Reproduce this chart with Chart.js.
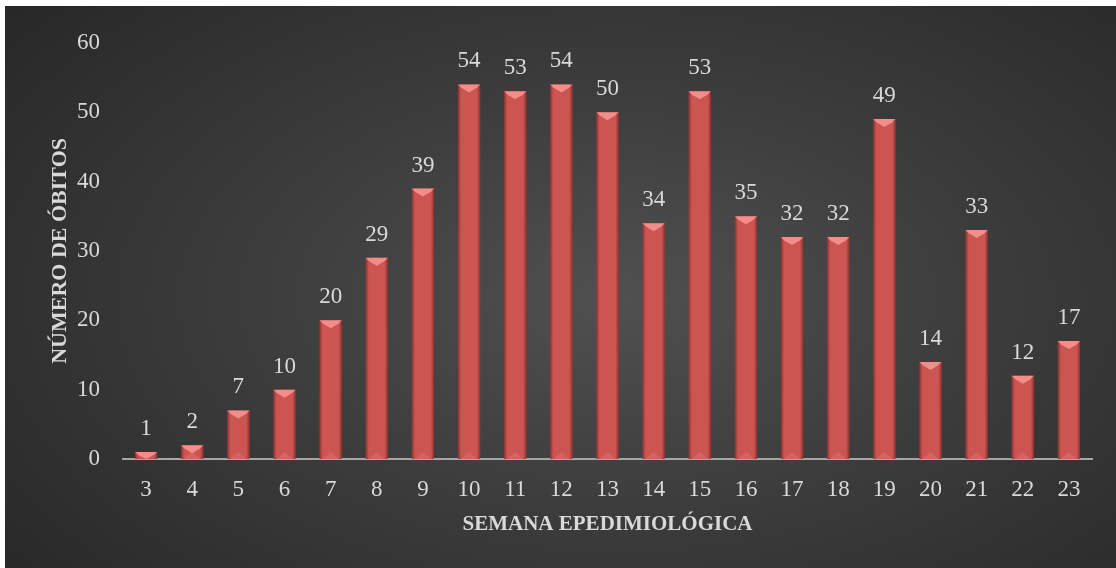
<!DOCTYPE html>
<html>
<head>
<meta charset="utf-8">
<script src="https://cdn.jsdelivr.net/npm/chart.js@4.4.0/dist/chart.umd.min.js"></script>
<style>
  html, body { margin: 0; padding: 0; background: #ffffff; }
  #wrap {
    position: absolute;
    left: 5px;
    top: 6px;
    width: 1111px;
    height: 562px;
    background: radial-gradient(ellipse 70% 80% at 55% 52%, #505050 0%, #3d3d3d 45%, #282828 100%);
  }
</style>
</head>
<body>
<div id="wrap"><canvas id="chart" width="1111" height="562"></canvas></div>
<script>
"use strict";

const semanas = ["3", "4", "5", "6", "7", "8", "9", "10", "11", "12", "13", "14", "15", "16", "17", "18", "19", "20", "21", "22", "23"];
const obitos = [1, 2, 7, 10, 20, 29, 39, 54, 53, 54, 50, 34, 53, 35, 32, 32, 49, 14, 33, 12, 17];
const yTicks = [0, 10, 20, 30, 40, 50, 60];

const textColor = "#d9d9d9";
const serif = "'Liberation Serif', 'DejaVu Serif', serif";

// rótulos de valor e efeito de chanfro sobre as barras
const barDecor = {
  id: "barDecor",
  afterDatasetsDraw(chart) {
    const ctx = chart.ctx;
    const meta = chart.getDatasetMeta(0);

    meta.data.forEach((bar, i) => {
      const { x, y, base, width } = bar.getProps(["x", "y", "base", "width"], true);
      const left = x - width / 2;
      const right = x + width / 2;
      const h = base - y;

      ctx.save();

      // laterais mais escuras
      const side = ctx.createLinearGradient(left, 0, right, 0);
      side.addColorStop(0, "rgba(80,15,15,0.5)");
      side.addColorStop(0.14, "rgba(80,15,15,0)");
      side.addColorStop(0.86, "rgba(80,15,15,0)");
      side.addColorStop(1, "rgba(80,15,15,0.5)");
      ctx.fillStyle = side;
      ctx.fillRect(left, y, width, h);

      // brilho triangular no topo
      const bevel = Math.min(8, h);
      ctx.beginPath();
      ctx.moveTo(left, y);
      ctx.lineTo(right, y);
      ctx.lineTo(right - 3, y + bevel * 0.4);
      ctx.lineTo(x, y + bevel);
      ctx.lineTo(left + 3, y + bevel * 0.4);
      ctx.closePath();
      ctx.fillStyle = "rgba(255,160,158,0.75)";
      ctx.fill();

      // brilho fraco na base
      if (h > 10) {
        ctx.beginPath();
        ctx.moveTo(left + 3, base);
        ctx.lineTo(x, base - 7);
        ctx.lineTo(right - 3, base);
        ctx.closePath();
        ctx.fillStyle = "rgba(255,170,170,0.18)";
        ctx.fill();
      }

      ctx.restore();

      ctx.save();
      ctx.fillStyle = textColor;
      ctx.font = "23px " + serif;
      ctx.textAlign = "center";
      ctx.textBaseline = "middle";
      ctx.fillText(String(obitos[i]), x, y - 23);
      ctx.restore();
    });
  }
};

new Chart(document.getElementById("chart"), {
  type: "bar",
  data: {
    labels: semanas,
    datasets: [{
      data: obitos,
      backgroundColor: "#cc5451",
      borderWidth: 0,
      categoryPercentage: 1,
      barPercentage: 0.48
    }]
  },
  options: {
    responsive: false,
    animation: false,
    layout: {
      padding: { top: 25, right: 24, left: 0, bottom: 0 }
    },
    plugins: {
      legend: { display: false },
      tooltip: { enabled: false }
    },
    scales: {
      x: {
        grid: { display: false, drawTicks: false },
        border: { display: true, color: "#a6a6a6", width: 2 },
        ticks: {
          color: textColor,
          font: { family: serif, size: 23 },
          padding: 17,
          maxRotation: 0
        },
        title: {
          display: true,
          text: "SEMANA EPEDIMIOLÓGICA",
          color: textColor,
          font: { family: serif, size: 21, weight: "bold" },
          padding: { top: 0, bottom: 31 }
        },
        afterFit(scale) {
          scale.height = 109;
        }
      },
      y: {
        min: 0,
        max: 60,
        afterBuildTicks(scale) {
          scale.ticks = yTicks.map((v) => ({ value: v }));
        },
        grid: { display: false, drawTicks: false },
        border: { display: false },
        ticks: {
          color: textColor,
          font: { family: serif, size: 23 },
          padding: 23
        },
        title: {
          display: true,
          text: "NÚMERO DE ÓBITOS",
          color: textColor,
          font: { family: serif, size: 22, weight: "bold" },
          padding: { top: 42, bottom: 0 }
        },
        afterFit(scale) {
          scale.width = 118;
        }
      }
    }
  },
  plugins: [barDecor]
});
</script>
</body>
</html>
